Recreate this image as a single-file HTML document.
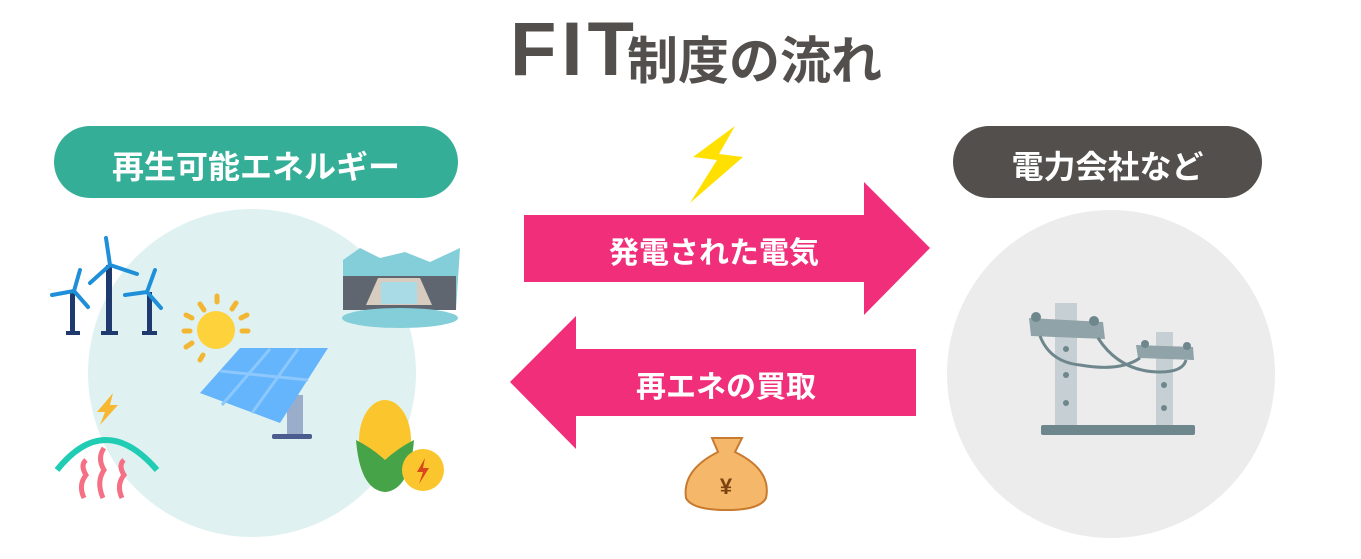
<!DOCTYPE html>
<html><head><meta charset="utf-8"><style>
html,body{margin:0;padding:0;background:#fff;width:1361px;height:559px;overflow:hidden}
body{position:relative;font-family:"Liberation Sans","Noto Sans CJK JP",sans-serif}
.t{position:absolute;white-space:nowrap;font-weight:bold}
</style></head><body>
<svg width="1361" height="559" style="position:absolute;left:0;top:0">
<circle cx="252" cy="373" r="164" fill="#dff2f1"/>
<circle cx="1111" cy="374" r="164" fill="#ececec"/>
<rect x="54" y="126" width="404" height="72" rx="36" fill="#35ae98"/>
<rect x="953" y="126" width="309" height="72" rx="36" fill="#534f4c"/>
<polygon points="524,215 864,215 864,182 930,248 864,315 864,282 524,282" fill="#f02e7a"/>
<polygon points="916,349 576,349 576,316 510,382 576,449 576,416 916,416" fill="#f02e7a"/>
<polygon points="735,126 693,157 717,160 690,203 743,157 719,154" fill="#ffe000"/>
<path d="M712,438 L742,438 L735,452 Q772,470 766,498 Q760,510 727,510 Q692,510 686,498 Q682,470 718,452 Z" fill="#f5b86a" stroke="#c87a2e" stroke-width="2"/>
<text x="726" y="494" font-size="22" font-weight="bold" fill="#7a4310" text-anchor="middle" font-family="Liberation Sans,sans-serif">¥</text>
<g fill="#1e3a6e"><rect x="70" y="290" width="5" height="42"/><rect x="106" y="265" width="6" height="67"/><rect x="147" y="292" width="5" height="40"/>
<rect x="66" y="331" width="14" height="4"/><rect x="101" y="331" width="17" height="4"/><rect x="142" y="331" width="15" height="4"/></g>
<g stroke="#1e8fd8" stroke-width="4" stroke-linecap="round"><path d="M74,291 L80,270 M74,291 L52,295 M74,291 L88,307"/><path d="M110,265 L106,238 M110,265 L90,283 M110,265 L137,274"/><path d="M147,292 L155,270 M147,292 L125,295 M147,292 L161,308"/></g>
<circle cx="216" cy="330" r="19" fill="#fdd23a"/>
<g stroke="#f2b632" stroke-width="5" stroke-linecap="round"><path d="M217,296 L217,302 M236,303 L232,309 M247,315 L241,318 M248,331 L242,331 M186,315 L192,318 M184,331 L190,331 M186,347 L192,343 M203,355 L200,360 M200,304 L204,310"/></g>
<rect x="287" y="395" width="16" height="40" fill="#9aaecc"/><rect x="272" y="434" width="40" height="5" rx="2" fill="#4b5c8e"/>
<polygon points="240,348 328,348 280,423 200,393" fill="#64b5fc"/>
<g stroke="#8cc8fd" stroke-width="3"><path d="M220,371 L308,380 M270,349 L222,405 M298,349 L252,413"/></g>
<path d="M343,260 L360,248 L380,258 L405,252 L430,262 L460,248 L456,310 L343,310 Z" fill="#84ced9"/>
<rect x="343" y="276" width="113" height="34" fill="#5f6670"/>
<polygon points="378,278 420,278 432,305 366,305" fill="#d8ccc0"/>
<rect x="381" y="282" width="36" height="22" fill="#a8dbe5"/>
<ellipse cx="400" cy="318" rx="58" ry="10" fill="#84ced9"/>
<path d="M57,470 Q105,410 157,470" stroke="#20cdb4" stroke-width="6" fill="none"/>
<polygon points="113,393 97,412 105,412 100,425 118,405 110,405" fill="#f7b731"/>
<g stroke="#f57084" stroke-width="5" fill="none"><path d="M84,498 Q78,485 86,475 Q80,465 86,460"/><path d="M103,498 Q96,482 104,470 Q97,458 104,448"/><path d="M122,498 Q116,485 124,475 Q118,465 124,460"/></g>
<ellipse cx="385" cy="440" rx="26" ry="40" fill="#fbc62d"/>
<path d="M356,440 Q360,490 385,492 Q410,490 414,440 Q398,448 385,460 Q372,448 356,440Z" fill="#46a348"/>
<circle cx="423" cy="470" r="21" fill="#fbc62d"/>
<polygon points="425,458 417,472 423,472 419,484 429,468 423,468" fill="#d9471c"/>
<rect x="1055" y="303" width="22" height="123" fill="#c6cfd3"/>
<rect x="1156" y="332" width="17" height="94" fill="#c6cfd3"/>
<rect x="1041" y="425" width="154" height="10" rx="2" fill="#6e878d"/>
<g fill="#8fa3a8"><polygon points="1029,318 1103,322 1105,339 1031,336"/><polygon points="1136,345 1193,347 1194,360 1138,358"/></g>
<g fill="#6e878d"><circle cx="1036" cy="317" r="5"/><circle cx="1094" cy="321" r="5"/><circle cx="1145" cy="344" r="4"/><circle cx="1187" cy="346" r="4"/>
<circle cx="1066" cy="349" r="3"/><circle cx="1066" cy="375" r="3"/><circle cx="1066" cy="403" r="3"/><circle cx="1164" cy="385" r="3"/><circle cx="1164" cy="408" r="3"/></g>
<path d="M1040,336 Q1050,362 1080,365 Q1120,372 1140,358 M1098,338 Q1120,372 1160,372 Q1183,372 1186,360" stroke="#6e878d" stroke-width="3" fill="none"/>
</svg>
<div class="t" style="left:510px;top:6px;font-size:76px;color:#534f4c;letter-spacing:5px;font-family:'Liberation Sans',sans-serif">FIT</div>
<div class="t" style="left:627px;top:20px;font-size:51px;color:#534f4c;letter-spacing:0px">制度の流れ</div>
<div class="t" style="left:54px;width:404px;text-align:center;top:142px;font-size:32px;color:#fff">再生可能エネルギー</div>
<div class="t" style="left:953px;width:309px;text-align:center;top:142px;font-size:32px;color:#fff">電力会社など</div>
<div class="t" style="left:524px;width:380px;text-align:center;top:228px;font-size:30px;color:#fff">発電された電気</div>
<div class="t" style="left:536px;width:380px;text-align:center;top:362px;font-size:30px;color:#fff">再エネの買取</div>
</body></html>
